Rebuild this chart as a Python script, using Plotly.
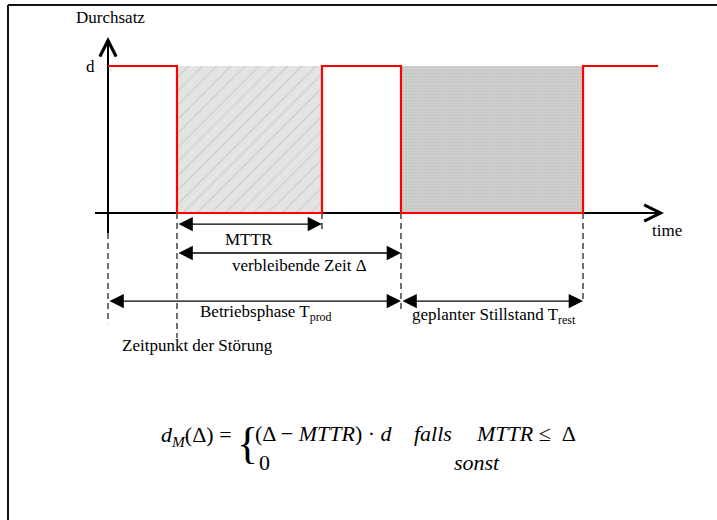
import plotly.graph_objects as go

# Zeitpunkte (Zeiteinheiten ab Beginn der Betriebsphase)
t_start = 0
t_stoerung = 69
t_repariert = 214
t_still_start = 293
t_still_ende = 475
t_ende = 550

zeitpunkte = [t_start, t_stoerung, t_repariert, t_still_start, t_still_ende, t_ende]
d = 1
durchsatz = [d, 0, d, 0, d, d]   # Niveau ab dem jeweiligen Zeitpunkt

# Bemassungspfeile: (Text, von, bis)
masse = [
    ("MTTR", t_stoerung, t_repariert),
    ("verbleibende Zeit Δ", t_stoerung, t_still_start),
    ("Betriebsphase T<sub>prod</sub>", t_start, t_still_start),
    ("geplanter Stillstand T<sub>rest</sub>", t_still_start, t_still_ende),
]
mass_ebene = [-0.075, -0.272, -0.599, -0.599]
mass_text_x = [141, 191, 158, 386]
mass_text_y = [-0.18, -0.355, -0.68, -0.70]

# senkrechte Hilfslinien (gestrichelt)
hilfslinien_x = [t_start, t_stoerung, t_repariert, t_still_start, t_still_ende]
hilfslinien_oben = [-0.136, 0, 0, 0, 0]
hilfslinien_unten = [-0.75, -0.85, -0.136, -0.66, -0.592]

W, H = 717, 520
X0, Y0, PX_PRO_D = 108, 213, 147   # Lage des Ursprungs im Bild
FONT = "Liberation Serif"

fig = go.Figure()

# Flaechen: Reparatur (schraffiert) und geplanter Stillstand (gepunktet)
a, b = t_stoerung, t_repariert
fig.add_trace(go.Scatter(x=[a, b, b, a, a], y=[0, 0, d, d, 0], mode="lines",
                         fill="toself", line=dict(width=0),
                         fillpattern=dict(shape="/", bgcolor="#e4e4e4", fgcolor="#b4b4b4",
                                          size=10, solidity=0.12)))
a, b = t_still_start, t_still_ende
fig.add_trace(go.Scatter(x=[a, b, b, a, a], y=[0, 0, d, d, 0], mode="lines",
                         fill="toself", line=dict(width=0),
                         fillpattern=dict(shape=".", bgcolor="#d2d2d2", fgcolor="#b8b8b8",
                                          size=3, solidity=0.5)))

# Achsen
fig.add_trace(go.Scatter(x=[-13, 552], y=[0, 0], mode="lines", line=dict(color="black", width=2)))
fig.add_trace(go.Scatter(x=[0, 0], y=[-0.136, 1.18], mode="lines", line=dict(color="black", width=2)))

# Hilfslinien
for x, y1, y2 in zip(hilfslinien_x, hilfslinien_oben, hilfslinien_unten):
    fig.add_trace(go.Scatter(x=[x, x], y=[y1, y2], mode="lines",
                             line=dict(color="#444444", width=1.5, dash="6px,4px")))

# Durchsatzverlauf
fig.add_trace(go.Scatter(x=zeitpunkte, y=durchsatz, mode="lines", line_shape="hv",
                         line=dict(color="#ff0000", width=2.2)))

# Pfeilspitzen der Achsen
fig.add_annotation(x=556, y=0, ax=540, ay=0, axref="x", ayref="y", text="",
                   showarrow=True, arrowhead=5, arrowsize=1.6, arrowwidth=2, arrowcolor="black")
fig.add_annotation(x=0, y=1.198, ax=0, ay=1.1, axref="x", ayref="y", text="",
                   showarrow=True, arrowhead=5, arrowsize=1.6, arrowwidth=2, arrowcolor="black")

# Bemassung
for (txt, von, bis), ye, xt, yt in zip(masse, mass_ebene, mass_text_x, mass_text_y):
    fig.add_annotation(x=bis, y=ye, ax=von, ay=ye, axref="x", ayref="y", text="",
                       showarrow=True, arrowhead=2, arrowside="end+start",
                       arrowsize=2.2, arrowwidth=1.3, arrowcolor="black")
    fig.add_annotation(x=xt, y=yt, text=txt, showarrow=False,
                       font=dict(family=FONT, size=17, color="black"))

lab = dict(family=FONT, size=17, color="black")
fig.add_annotation(x=2, y=1.33, text="Durchsatz", showarrow=False, font=lab)
fig.add_annotation(x=-18, y=d, text="d", showarrow=False, font=lab)
fig.add_annotation(x=559, y=-0.12, text="time", showarrow=False, font=lab)
fig.add_annotation(x=89, y=-0.90, text="Zeitpunkt der Störung", showarrow=False, font=lab)

# Formel
def pap(px, py):
    return px / W, 1 - py / H

ff = dict(family=FONT, size=22, color="black")
formel = [
    ("<i>d</i><sub><i>M</i></sub>(Δ) = ", 238, 436, "right", ff),
    ("{", 236, 443, "left", dict(family=FONT, size=44, color="black")),
    ("(Δ − <i>MTTR</i>) · <i>d</i>", 254, 433, "left", ff),
    ("<i>falls</i>", 413, 433, "left", ff),
    ("<i>MTTR</i> ≤  Δ", 475, 433, "left", ff),
    ("0", 258, 462, "left", ff),
    ("<i>sonst</i>", 453, 462, "left", ff),
]
for txt, px, py, xa, f in formel:
    xp, yp = pap(px, py)
    fig.add_annotation(x=xp, y=yp, xref="paper", yref="paper", text=txt, showarrow=False,
                       xanchor=xa, yanchor="middle", font=f, borderpad=0)

# Rahmen (oben und links)
fig.add_shape(type="line", xref="paper", yref="paper", x0=8 / W, x1=1, y0=1 - 5 / H, y1=1 - 5 / H,
              line=dict(color="#111111", width=2))
fig.add_shape(type="line", xref="paper", yref="paper", x0=8 / W, x1=8 / W, y0=1 - 5 / H, y1=0,
              line=dict(color="#111111", width=2))

fig.update_xaxes(range=[-X0, W - X0], visible=False, showgrid=False, zeroline=False)
fig.update_yaxes(range=[(Y0 - H) / PX_PRO_D, Y0 / PX_PRO_D], visible=False,
                 showgrid=False, zeroline=False)
fig.update_layout(width=W, height=H, margin=dict(l=0, r=0, t=0, b=0),
                  plot_bgcolor="white", paper_bgcolor="white", showlegend=False)

fig.write_html("out.html", config={"displayModeBar": False},
               post_script="document.body.style.margin='0';")
